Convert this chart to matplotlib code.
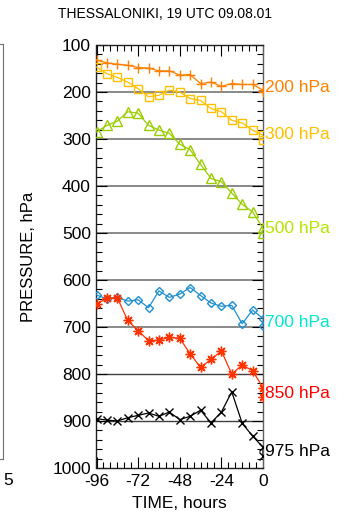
import matplotlib
matplotlib.use("Agg")
from matplotlib import pyplot as plt
from matplotlib.ticker import MultipleLocator
import numpy as np

plt.rcParams["font.family"] = ["Liberation Sans", "DejaVu Sans"]

# forecast hours: every 6 h, plus the sounding value at 0 h
hours = list(range(-96, 1, 6)) + [0]

p200 = [132, 138, 141, 143, 148, 149, 155, 155, 164, 163, 182, 179, 188, 182, 184, 184, 196, 200]
p300 = [147, 161, 169, 179, 193, 210, 207, 196, 200, 214, 218, 235, 242, 260, 266, 281, 292, 302]
p500 = [285, 271, 262, 242, 245, 271, 281, 288, 311, 323, 354, 384, 391, 415, 439, 455, 490, 500]
p700 = [632, 640, 637, 645, 642, 659, 623, 637, 630, 616, 633, 649, 656, 654, 693, 664, 682, 698]
p850 = [652, 638, 638, 686, 708, 729, 728, 722, 724, 757, 786, 769, 751, 800, 781, 793, 829, 849]
p975 = [895, 898, 900, 893, 888, 883, 890, 881, 897, 890, 877, 904, 881, 838, 905, 932, 956, 975]

levels = [200, 300, 500, 700, 850, 975]
level_labels = ["200 hPa", "300 hPa", "500 hPa", "700 hPa", "850 hPa", "975 hPa"]
series = [p200, p300, p500, p700, p850, p975]
line_colors = ["#FF8000", "#FFC000", "#9ACD00", "#1E90D0", "#FF3300", "#000000"]
text_colors = ["#FF8000", "#FFC000", "#B4E600", "#00E8D0", "#FF0000", "#000000"]
markers = ["+", "s", "^", "D", (8, 2, 0), "x"]
msizes = [7, 6, 6.5, 4.5, 7, 6]

grid_levels = [200, 300, 400, 500, 600, 700, 800, 900]
xticks = [-96, -72, -48, -24, 0]
yticks = list(range(100, 1001, 100))

W, H = 350, 517
fig = plt.figure(figsize=(W / 100, H / 100), dpi=100)

# remnant of the neighbouring panel at the left edge
axP = fig.add_axes([(3 - 167) / W, (H - 459) / H, 167 / W, 415 / H])
axP.set_xlim(-25, 5)
axP.set_ylim(1000, 100)
axP.set_xticks([5])
axP.set_yticks([])
axP.tick_params(labelsize=12.5, length=0, pad=10)
for lbl in axP.get_xticklabels():
    lbl.set_ha("left")
    lbl.set_x(lbl.get_position()[0])
for s in axP.spines.values():
    s.set_color("#707070")

ax = fig.add_axes([96.5 / W, (H - 468) / H, 166.5 / W, 423 / H])

for g in grid_levels:
    col = "#808080" if g <= 700 else "#404040"
    lw = 1.3 if g <= 700 else 1.0
    ax.axhline(g, color=col, lw=lw, zorder=1)

for vals, c, m, ms in zip(series, line_colors, markers, msizes):
    ax.plot(hours, vals, color=c, lw=0.9, marker=m, ms=ms, mfc="none",
            mec=c, mew=1.0, clip_on=True, zorder=3)

for lev, lab, c in zip(levels, level_labels, text_colors):
    ax.text(1.015, lev, lab, color=c, fontsize=12.5, va="baseline", ha="left",
            transform=ax.get_yaxis_transform())

ax.set_xlim(-96, 0)
ax.set_ylim(1000, 100)
ax.set_xticks(xticks)
ax.set_xticklabels([str(v) for v in xticks])
ax.set_yticks(yticks)
ax.xaxis.set_minor_locator(MultipleLocator(4))
ax.yaxis.set_minor_locator(MultipleLocator(20))
ax.tick_params(which="both", direction="in", top=True, right=True, labelsize=12.5,
               colors="#000000", width=0.8, pad=4)
ax.tick_params(which="major", length=8)
ax.tick_params(which="minor", length=4)
for s in ax.spines.values():
    s.set_color("#202020")
    s.set_linewidth(1.0)
ax.spines["right"].set_color("#606060")

ax.set_xlabel("TIME, hours", fontsize=12.5, labelpad=5)
ax.set_ylabel("PRESSURE, hPa", fontsize=12, labelpad=12)
fig.text(165.5 / W, 1 - 14 / H, "THESSALONIKI, 19 UTC 09.08.01",
         fontsize=10, ha="center", va="center")

fig.savefig("out.png", dpi=100)
